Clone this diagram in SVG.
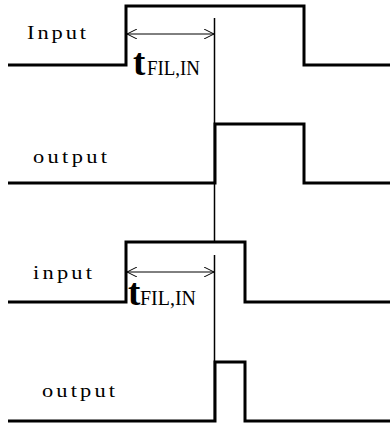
<svg xmlns="http://www.w3.org/2000/svg" width="390" height="423" viewBox="0 0 390 423">
<style>
.sig{fill:none;stroke:#000;stroke-width:3;stroke-linejoin:miter}
.thin{fill:none;stroke:#000;stroke-width:1.5}
.dim{fill:none;stroke:#000;stroke-width:1}
.lbl{font-family:"Liberation Serif",serif;font-size:19.5px;fill:#000}
.t{font-family:"Liberation Serif",serif;font-size:37px;font-weight:bold;fill:#000}
.sub{font-family:"Liberation Serif",serif;font-size:20px;fill:#000}
</style>
<defs>
<marker id="ah" viewBox="0 0 10 10" refX="10" refY="5" markerWidth="10" markerHeight="10" markerUnits="userSpaceOnUse" orient="auto-start-reverse">
<path d="M0,0 L10,5 L0,10" fill="none" stroke="#000" stroke-width="1"/>
</marker>
</defs>
<g id="input1">
<path class="sig" d="M8,65 H126 V6 H304 V65 H390"/>
<text class="lbl" transform="translate(27,39) scale(1.15,1)" textLength="51.3" lengthAdjust="spacing">Input</text>
</g>
<g id="output1">
<path class="sig" d="M8,183 H215 V124 H304 V183 H390"/>
<text class="lbl" transform="translate(33,163) scale(1.15,1)" textLength="64.3" lengthAdjust="spacing">output</text>
</g>
<g id="input2">
<path class="sig" d="M8,302 H126 V242 H245 V302 H390"/>
<text class="lbl" transform="translate(33,279) scale(1.15,1)" textLength="51.3" lengthAdjust="spacing">input</text>
</g>
<g id="output2">
<path class="sig" d="M8,421 H215 V362 H245 V421 H390"/>
<text class="lbl" transform="translate(42,397) scale(1.15,1)" textLength="63.5" lengthAdjust="spacing">output</text>
</g>
<g id="connectors">
<line class="thin" x1="214.5" y1="18" x2="214.5" y2="242"/>
<line class="thin" x1="214.5" y1="255" x2="214.5" y2="421"/>
<line class="dim" x1="127" y1="34" x2="214" y2="34" marker-start="url(#ah)" marker-end="url(#ah)"/>
<line class="dim" x1="127" y1="272" x2="214" y2="272" marker-start="url(#ah)" marker-end="url(#ah)"/>
</g>
<g id="label1">
<text x="133" y="75"><tspan class="t">t</tspan><tspan class="sub" x="147" textLength="53" lengthAdjust="spacingAndGlyphs">FIL,IN</tspan></text>
</g>
<g id="label2">
<text x="128" y="305"><tspan class="t">t</tspan><tspan class="sub" x="140" textLength="56" lengthAdjust="spacingAndGlyphs">FIL,IN</tspan></text>
</g>
</svg>
